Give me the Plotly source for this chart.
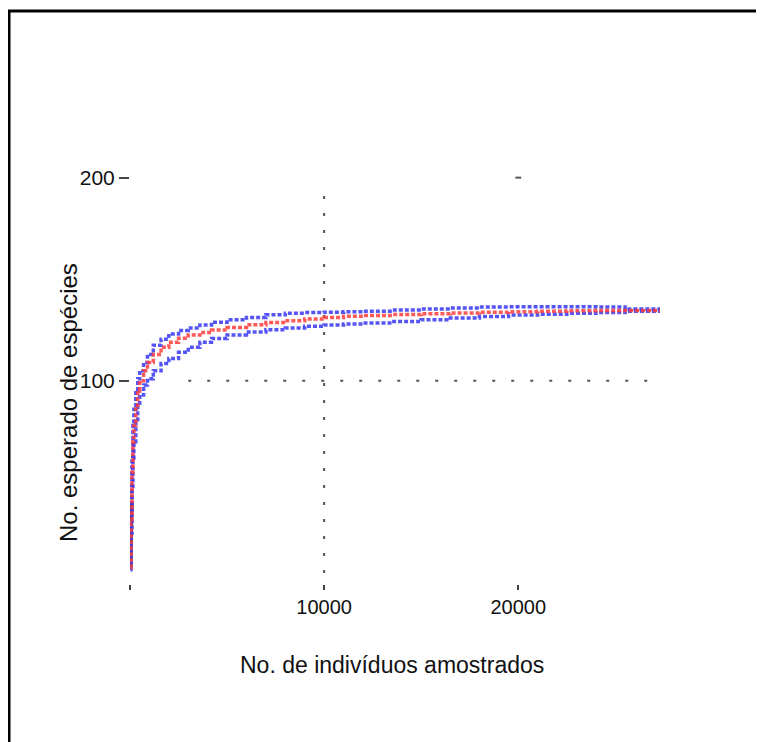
import plotly.graph_objects as go

# Data
individuals = [20, 50, 100, 150, 200, 300, 400, 500, 700, 900, 1200, 1600, 2000, 2500,
               3000, 3600, 4200, 5000, 6000, 7000, 8000, 9000, 10000, 11000, 12000,
               13500, 15000, 16500, 18000, 19500, 21000, 22500, 24000, 25500, 27300]
mean_species = [8, 30, 55, 70, 78, 88, 95, 100, 105, 109, 113, 116.5, 119, 121,
                122.5, 123.8, 125, 126.3, 127.6, 128.7, 129.6, 130.4, 131.2, 131.8, 132.2,
                132.6, 133, 133.4, 133.8, 134, 134.2, 134.5, 134.6, 134.6, 134.7]
upper_species = [10, 35, 62, 78, 86, 95, 101, 105, 109, 113, 117.5, 120.5, 123, 124.8,
                 126, 127.5, 128.8, 130, 131.2, 132.5, 133.3, 133.6, 133.8, 134, 134.3,
                 134.8, 135.3, 135.8, 136.3, 136.4, 136.4, 136.4, 136.3, 135.3, 134.8]
lower_species = [7, 25, 48, 62, 70, 80, 88, 93, 98, 101, 105, 108.5, 111, 114,
                 116.5, 119, 120.8, 122.6, 124, 125.1, 126, 126.8, 127.5, 128, 128.5,
                 129.2, 130, 130.9, 131.7, 132.4, 132.8, 133.2, 133.6, 134.2, 134.6]
obs_x = [20, 40, 60, 80]
obs_y = [8, 18, 30, 40]

x_ticks = [0, 10000, 20000]
x_labels = ["", "10000", "20000"]
y_ticks = [100, 200]
y_labels = ["100", "200"]

FONT = "Liberation Sans, Arial, sans-serif"
BLUE = "rgba(55,55,245,0.85)"
RED = "rgba(255,60,60,0.85)"

# figure is offset by the page's 8px body margin
W, H = 756, 734
L, R, T, B = 122, 104, 129, 158
PW, PH = W - L - R, H - T - B


def px(xp):
    return (xp - 8 - L) / PW


def py(yp):
    return (H - B - (yp - 8)) / PH


fig = go.Figure()
fig.add_trace(go.Scatter(x=obs_x, y=obs_y, mode="lines",
                         line=dict(color="rgba(40,40,40,0.9)", width=4)))
for ys, col in [(upper_species, BLUE), (lower_species, BLUE), (mean_species, RED)]:
    fig.add_trace(go.Scatter(x=individuals, y=ys, mode="lines", line_shape="hv",
                             line=dict(color=col, width=3.5, dash="4px,2px")))

# sparse dotted reference lines
fig.add_shape(type="line", x0=x_ticks[1], x1=x_ticks[1], y0=-3, y1=195,
              line=dict(color="#555", width=2, dash="3px,14px"), layer="below")
fig.add_shape(type="line", x0=3000, x1=27000, y0=y_ticks[0], y1=y_ticks[0],
              line=dict(color="#555", width=2, dash="3px,16px"), layer="below")
fig.add_shape(type="line", x0=x_ticks[2] - 150, x1=x_ticks[2] + 150, y0=y_ticks[1], y1=y_ticks[1],
              line=dict(color="#555", width=2), layer="below")

# outer frame (top and left edges of the cropped border)
fig.add_shape(type="line", xref="paper", yref="paper", x0=px(8), x1=px(770),
              y0=py(11), y1=py(11), line=dict(color="black", width=3))
fig.add_shape(type="line", xref="paper", yref="paper", x0=px(9), x1=px(9),
              y0=py(10), y1=py(760), line=dict(color="black", width=3))

# axis titles
fig.add_annotation(text="No. de indivíduos amostrados", xref="paper", yref="paper",
                   x=px(392), y=py(665), showarrow=False, xanchor="center", yanchor="middle",
                   font=dict(size=23, family=FONT, color="#111"))
fig.add_annotation(text="No. esperado de espécies", xref="paper", yref="paper",
                   x=px(68), y=py(403), showarrow=False, xanchor="center", yanchor="middle",
                   textangle=-90, font=dict(size=24, family=FONT, color="#111"))

fig.update_layout(
    width=W, height=H,
    margin=dict(l=L, r=R, t=T, b=B),
    paper_bgcolor="white", plot_bgcolor="white",
    showlegend=False,
    font=dict(family=FONT, size=20, color="#111"),
)
fig.update_xaxes(range=[0, 27300], tickvals=x_ticks, ticktext=x_labels,
                 showgrid=False, zeroline=False, showline=False,
                 ticks="outside", ticklen=5, tickwidth=2, tickcolor="#444",
                 tickfont=dict(size=20))
fig.update_yaxes(range=[0, 220], tickvals=y_ticks, ticktext=y_labels,
                 showgrid=False, zeroline=False, showline=False,
                 ticks="outside", ticklen=10, tickwidth=2, tickcolor="#444",
                 tickfont=dict(size=21))

fig.write_html("out.html")
